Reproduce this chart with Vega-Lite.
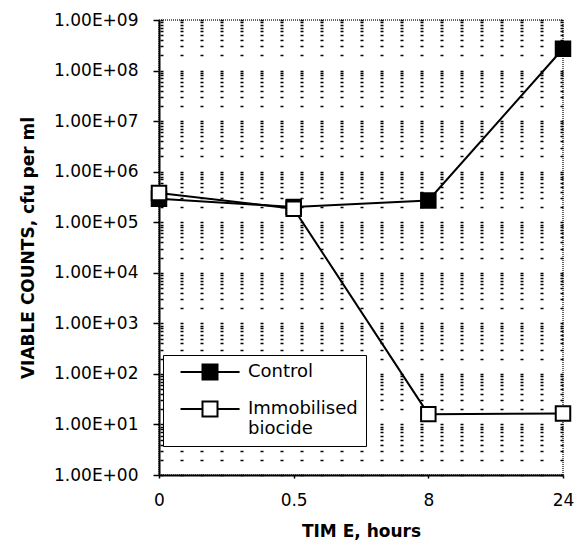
{
  "$schema": "https://vega.github.io/schema/vega-lite/v6.json",
  "autosize": "none",
  "width": 404,
  "height": 455,
  "padding": {"left": 159, "top": 20, "right": 11, "bottom": 68},
  "background": "white",
  "config": {
    "view": {"stroke": "#333", "strokeWidth": 1.5, "strokeDash": [1, 1]},
    "font": "DejaVu Sans"
  },
  "data": {
    "values": [
      {"time": "0", "series": "Control", "count": 290000},
      {"time": "0.5", "series": "Control", "count": 200000},
      {"time": "8", "series": "Control", "count": 270000},
      {"time": "24", "series": "Control", "count": 270000000},
      {"time": "0", "series": "Immobilised biocide", "count": 380000},
      {"time": "0.5", "series": "Immobilised biocide", "count": 185000},
      {"time": "8", "series": "Immobilised biocide", "count": 16},
      {"time": "24", "series": "Immobilised biocide", "count": 16.5}
    ]
  },
  "encoding": {
    "x": {
      "field": "time", "type": "ordinal", "sort": ["0", "0.5", "8", "24"],
      "scale": {"type": "point", "padding": 0},
      "axis": {
        "title": "TIM E, hours", "labelAngle": 0,
        "labelFont": "DejaVu Sans", "labelFontSize": 17, "labelColor": "black", "labelPadding": 14,
        "titleFont": "DejaVu Sans", "titleFontWeight": "bold", "titleFontSize": 17, "titleColor": "black", "titlePadding": 15,
        "domainColor": "black", "domainWidth": 2, "tickColor": "black", "tickSize": 3, "tickWidth": 1.5, "grid": false
      }
    },
    "y": {
      "field": "count", "type": "quantitative",
      "scale": {"type": "log", "domain": [1, 1000000000], "nice": false},
      "axis": {
        "title": "VIABLE COUNTS, cfu per ml",
        "values": [1,2,3,4,5,6,7,8,9,10,20,30,40,50,60,70,80,90,100,200,300,400,500,600,700,800,900,1000,2000,3000,4000,5000,6000,7000,8000,9000,10000,20000,30000,40000,50000,60000,70000,80000,90000,100000,200000,300000,400000,500000,600000,700000,800000,900000,1000000,2000000,3000000,4000000,5000000,6000000,7000000,8000000,9000000,10000000,20000000,30000000,40000000,50000000,60000000,70000000,80000000,90000000,100000000,200000000,300000000,400000000,500000000,600000000,700000000,800000000,900000000,1000000000],
        "labelExpr": "abs(log(datum.value) / LN10 - round(log(datum.value) / LN10)) < 0.000001 ? '1.00E+0' + round(log(datum.value) / LN10) : ''",
        "labelFont": "DejaVu Sans", "labelFontSize": 17, "labelColor": "black", "labelPadding": 15,
        "labelOverlap": false,
        "titleFont": "DejaVu Sans", "titleFontWeight": "bold", "titleFontSize": 17, "titleColor": "black", "titlePadding": 16,
        "domainColor": "black", "domainWidth": 2, "tickColor": "black", "tickSize": 6, "tickWidth": 1.5,
        "tickOpacity": {"condition": {"test": "abs(log(datum.value) / LN10 - round(log(datum.value) / LN10)) < 0.000001", "value": 1}, "value": 0},
        "grid": true, "gridColor": "black", "gridWidth": 1.5, "gridDash": [3, 17], "gridDashOffset": -1, "gridOpacity": 1
      }
    }
  },
  "layer": [
    {
      "mark": {"type": "line", "color": "black", "strokeWidth": 2},
      "encoding": {"detail": {"field": "series"}}
    },
    {
      "mark": {"type": "point", "shape": "square", "size": 210, "filled": true, "stroke": "black", "strokeWidth": 2, "opacity": 1},
      "encoding": {
        "fill": {
          "field": "series", "type": "nominal",
          "scale": {"domain": ["Control", "Immobilised biocide"], "range": ["black", "white"]},
          "legend": {
            "title": null, "orient": "none", "legendX": 4, "legendY": 335,
            "fillColor": "white", "strokeColor": "black",
            "padding": 8, "rowPadding": 13,
            "symbolType": "M0.07,0H3M5,0H7.94M3,-1H5V1H3Z",
            "symbolSize": 225, "symbolStrokeColor": "black", "symbolStrokeWidth": 2, "symbolOpacity": 1,
            "labelFont": "DejaVu Sans", "labelFontSize": 18, "labelColor": "black", "labelOffset": 59,
            "labelLimit": 300,
            "labelExpr": "datum.label == 'Immobilised biocide' ? ['Immobilised  ', 'biocide'] : datum.label"
          }
        }
      }
    }
  ]
}
